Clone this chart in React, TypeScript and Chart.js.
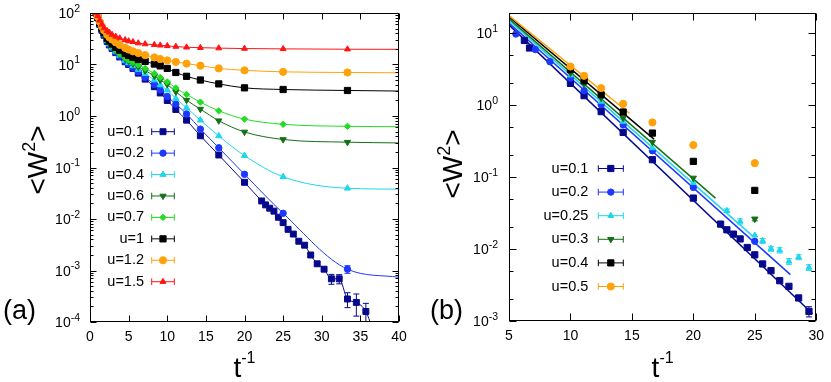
import React, { useEffect, useRef } from "react";
import { Chart, registerables } from "chart.js";

Chart.register(...registerables);

const FONT = "'Liberation Sans', Helvetica, Arial, sans-serif";

const NAVY = "#07098c";
const BLUE = "#1d38ff";
const CYAN = "#1fd6ea";
const DKGREEN = "#137014";
const GREEN = "#22dd22";
const BLACK = "#000000";
const ORANGE = "#ffa20a";
const RED = "#ff1414";

// ---------------- Panel (a) data ----------------
const A_X_TICKS = [0, 5, 10, 15, 20, 25, 30, 35, 40];
const A_Y_EXPONENTS = [-4, -3, -2, -1, 0, 1, 2];
const A_Y_MINOR = [2, 3, 4, 5, 6, 7, 8, 9];

const A_X = [0.8, 1, 1.25, 1.54, 1.82, 2.22, 2.5, 2.86, 3.33, 3.85, 4.55, 5, 5.56, 6.25, 7.14, 8.33, 9.09, 10, 11.11, 12.5, 14.29, 16.67, 20, 25, 33.33];
const A_U15 = [100, 88, 72, 60, 51, 45, 42, 38, 35, 32.5, 30, 28.5, 27.5, 26, 25, 24.2, 23.6, 23, 22.3, 21.6, 21.2, 20.8, 20.4, 20.1, 19.8];
const A_U12 = [100, 85, 68, 55, 46, 38, 34, 30.5, 27, 24, 21, 19.5, 18, 16.7, 15.2, 13.7, 12.8, 12, 11.2, 10.4, 9.5, 8.4, 7.7, 7.2, 7.0];
const A_U1 = [100, 83, 64, 50, 41, 32, 28.5, 25, 21.5, 19, 16.3, 15, 13.8, 12.5, 11.5, 10.2, 9.4, 8.4, 7.0, 5.9, 5.0, 4.2, 3.52, 3.27, 3.13];
const A_U07 = [100, 82, 63, 49, 39, 30, 26, 22.5, 19, 16, 13.4, 12.2, 11, 9.8, 8.4, 6.7, 5.6, 4.6, 3.5, 2.62, 1.86, 1.26, 0.87, 0.69, 0.63];
const A_U06 = [100, 81, 62, 48, 38.5, 29.5, 25.5, 22, 18.5, 15.5, 12.8, 11.6, 10.3, 9.0, 7.6, 6.0, 5.0, 4.1, 2.95, 2.03, 1.36, 0.81, 0.49, 0.35, 0.31];
const A_U04 = [100, 81, 61, 47.5, 38, 29, 25, 21.5, 18, 15, 12, 10.8, 9.4, 8.0, 6.6, 5.0, 4.0, 3.18, 2.19, 1.44, 0.83, 0.41, 0.17, 0.066, 0.0395];
const A_U02 = [100, 80, 61, 47, 37.5, 28.5, 24.5, 21, 17.5, 14.5, 11.7, 10.4, 8.8, 7.2, 5.6, 4.1, 3.2, 2.4, 1.7, 1.1, 0.557, 0.242, 0.0738, 0.0129, 0.00106];
const A_U02_ERR = [[33.33, 0.00018]];

const A_X_U01 = [0.8, 1, 1.25, 1.54, 1.82, 2.22, 2.5, 2.86, 3.33, 3.85, 4.55, 5, 5.56, 6.25, 7.14, 8.33, 9.09, 10, 11.11, 12.5, 14.29, 16.67, 20, 22.22, 22.73, 23.26, 23.81, 24.39, 25, 25.64, 26.32, 27.03, 27.78, 28.57, 29.41, 30.3, 31.25, 32.26, 33.33, 34.48, 35.71];
const A_U01 = [100, 80, 60, 46, 37, 28, 24, 20.5, 17, 14, 11.3, 10, 8.4, 6.8, 5.2, 3.7, 2.8, 2.0, 1.34, 0.83, 0.413, 0.175, 0.0516, 0.0224, 0.0188, 0.0162, 0.0142, 0.0108, 0.0085, 0.0063, 0.0051, 0.0037, 0.0031, 0.002, 0.00135, 0.00106, 0.00069, 0.00069, 0.00028, 0.00024, 0.00016];
const A_U01_ERR = [[28.57, 0.00012], [29.41, 0.0001], [30.3, 0.00008], [31.25, 0.00015], [32.26, 0.00014], [33.33, 0.00009], [34.48, 0.00011], [35.71, 0.00007]];

// where each curve of panel (a) runs out at the right (or bottom) edge
const A_END_U15 = [40, 19.7];
const A_END_U12 = [40, 6.9];
const A_END_U1 = [40, 3.05];
const A_END_U07 = [40, 0.62];
const A_END_U06 = [40, 0.3];
const A_END_U04 = [40, 0.038];
const A_END_U02 = [40, 0.00074];
const A_END_U01 = [36.5, 0.00008];

// ---------------- Panel (b) data ----------------
const B_X_TICKS = [5, 10, 15, 20, 25, 30];
const B_Y_EXPONENTS = [-3, -2, -1, 0, 1];
const B_Y_MINOR = [2, 5];

const B_X_U01 = [6.25, 6.67, 10, 11.11, 12.5, 14.29, 16.67, 20, 22.22, 22.73, 23.26, 23.81, 24.39, 25, 25.64, 26.32, 27.03, 27.78, 28.57, 29.41];
const B_U01 = [7.9, 6.2, 2.0, 1.35, 0.81, 0.417, 0.174, 0.051, 0.0222, 0.0185, 0.0161, 0.0138, 0.0105, 0.0083, 0.0062, 0.005, 0.00363, 0.00303, 0.00209, 0.00136];
const B_U01_ERR = [[28.57, 0.00015], [29.41, 0.00022]];
const B_X_U02 = [5.56, 7.14, 8.33, 10, 11.11, 12.5, 14.29, 16.67, 20, 25];
const B_U02 = [9.7, 5.9, 4.0, 2.37, 1.58, 1.01, 0.53, 0.232, 0.0718, 0.0128];
const B_X_U025 = [10, 12.5, 14.29, 16.67, 20, 22.73, 23.81, 25, 25.64, 26.32, 27.03, 27.78, 28.57, 29.41];
const B_U025 = [2.6, 1.12, 0.59, 0.253, 0.083, 0.034, 0.0242, 0.0155, 0.013, 0.0101, 0.0096, 0.00673, 0.0077, 0.00554];
const B_U025_ERR = [[22.73, 0.002], [23.81, 0.002], [25.64, 0.001], [26.32, 0.0008], [27.03, 0.0008], [27.78, 0.0006], [28.57, 0.0006], [29.41, 0.0005]];
const B_X_U03 = [10, 11.11, 12.5, 14.29, 16.67, 20, 25];
const B_U03 = [2.8, 1.95, 1.25, 0.66, 0.306, 0.097, 0.0261];
const B_U03_ERR = [[25, 0.0015]];
const B_X_U04 = [10, 11.11, 12.5, 14.29, 16.67, 20, 25];
const B_U04 = [3.1, 2.17, 1.39, 0.8, 0.408, 0.165, 0.0652];
const B_X_U05 = [10, 11.11, 12.5, 14.29, 16.67, 20, 25];
const B_U05 = [3.43, 2.55, 1.72, 1.04, 0.574, 0.278, 0.156];

// fitted straight lines of panel (b): [start, end]
const B_FIT_X_U01 = [5, 29.7];
const B_FIT_U01 = [13.0, 0.00126];
const B_FIT_X_U02 = [5, 27.9];
const B_FIT_U02 = [13.8, 0.0044];
const B_FIT_X_U025 = [5, 24.85];
const B_FIT_U025 = [15.0, 0.015];
const B_FIT_X_U03 = [5, 21.8];
const B_FIT_U03 = [15.8, 0.051];
const B_FIT_X_U04 = [5, 16.8];
const B_FIT_U04 = [16.8, 0.337];
const B_FIT_X_U05 = [5, 14.8];
const B_FIT_U05 = [17.5, 0.77];

// ---------------- types ----------------
type Mk = "rect" | "circle" | "triangle" | "triangleDown" | "diamond";
interface SeriesDef {
  label: string;
  color: string;
  marker: Mk;
  r: number;
  x: number[];
  y: number[];
  err?: number[][];
  lineX: number[];
  lineY: number[];
  lineWidth: number;
  smooth: boolean;
}
interface PanelCfg {
  width: number;
  left: number;
  padRight: number;
  padTop: number;
  axisW: number;
  axisH: number;
  xMin: number;
  xMax: number;
  yMin: number;
  yMax: number;
  xTicks: number[];
  yExps: number[];
  yMinor: number[];
  majorLen: number;
  minorLen: number;
  labelRight: number;
  yTitle: { x: number; y: number };
  xTitleY: number;
  panel: { text: string; x: number; y: number };
  legend: { textRight: number; x1: number; x2: number; y0: number; step: number };
  series: SeriesDef[];
}

const withEnd = (arr: number[], end: number) => [...arr, end];

const A_SERIES: SeriesDef[] = [
  { label: "u=0.1", color: NAVY, marker: "rect", r: 4.2, x: A_X_U01, y: A_U01, err: A_U01_ERR, lineX: withEnd(A_X_U01, A_END_U01[0]), lineY: withEnd(A_U01, A_END_U01[1]), lineWidth: 1, smooth: true },
  { label: "u=0.2", color: BLUE, marker: "circle", r: 3.2, x: A_X, y: A_U02, err: A_U02_ERR, lineX: withEnd(A_X, A_END_U02[0]), lineY: withEnd(A_U02, A_END_U02[1]), lineWidth: 1, smooth: true },
  { label: "u=0.4", color: CYAN, marker: "triangle", r: 3.6, x: A_X, y: A_U04, lineX: withEnd(A_X, A_END_U04[0]), lineY: withEnd(A_U04, A_END_U04[1]), lineWidth: 1, smooth: true },
  { label: "u=0.6", color: DKGREEN, marker: "triangleDown", r: 3.6, x: A_X, y: A_U06, lineX: withEnd(A_X, A_END_U06[0]), lineY: withEnd(A_U06, A_END_U06[1]), lineWidth: 1, smooth: true },
  { label: "u=0.7", color: GREEN, marker: "diamond", r: 3.2, x: A_X, y: A_U07, lineX: withEnd(A_X, A_END_U07[0]), lineY: withEnd(A_U07, A_END_U07[1]), lineWidth: 1, smooth: true },
  { label: "u=1", color: BLACK, marker: "rect", r: 4.4, x: A_X, y: A_U1, lineX: withEnd(A_X, A_END_U1[0]), lineY: withEnd(A_U1, A_END_U1[1]), lineWidth: 1, smooth: true },
  { label: "u=1.2", color: ORANGE, marker: "circle", r: 3.6, x: A_X, y: A_U12, lineX: withEnd(A_X, A_END_U12[0]), lineY: withEnd(A_U12, A_END_U12[1]), lineWidth: 1, smooth: true },
  { label: "u=1.5", color: RED, marker: "triangle", r: 3.4, x: A_X, y: A_U15, lineX: withEnd(A_X, A_END_U15[0]), lineY: withEnd(A_U15, A_END_U15[1]), lineWidth: 1, smooth: true },
];

const B_SERIES: SeriesDef[] = [
  { label: "u=0.1", color: NAVY, marker: "rect", r: 4.4, x: B_X_U01, y: B_U01, err: B_U01_ERR, lineX: B_FIT_X_U01, lineY: B_FIT_U01, lineWidth: 1.5, smooth: false },
  { label: "u=0.2", color: BLUE, marker: "circle", r: 3.2, x: B_X_U02, y: B_U02, lineX: B_FIT_X_U02, lineY: B_FIT_U02, lineWidth: 1.5, smooth: false },
  { label: "u=0.25", color: CYAN, marker: "triangle", r: 3.4, x: B_X_U025, y: B_U025, err: B_U025_ERR, lineX: B_FIT_X_U025, lineY: B_FIT_U025, lineWidth: 1.5, smooth: false },
  { label: "u=0.3", color: DKGREEN, marker: "triangleDown", r: 3.6, x: B_X_U03, y: B_U03, err: B_U03_ERR, lineX: B_FIT_X_U03, lineY: B_FIT_U03, lineWidth: 1.5, smooth: false },
  { label: "u=0.4", color: BLACK, marker: "rect", r: 4.4, x: B_X_U04, y: B_U04, lineX: B_FIT_X_U04, lineY: B_FIT_U04, lineWidth: 1.5, smooth: false },
  { label: "u=0.5", color: ORANGE, marker: "circle", r: 3.6, x: B_X_U05, y: B_U05, lineX: B_FIT_X_U05, lineY: B_FIT_U05, lineWidth: 1.5, smooth: false },
];

const PANEL_A: PanelCfg = {
  width: 415, left: 0, padRight: 16, padTop: 13, axisW: 90, axisH: 60,
  xMin: 0, xMax: 40, yMin: 1e-4, yMax: 100,
  xTicks: A_X_TICKS, yExps: A_Y_EXPONENTS, yMinor: A_Y_MINOR, majorLen: 6, minorLen: 3,
  labelRight: 80, yTitle: { x: 37, y: 160 }, xTitleY: 376.5,
  panel: { text: "(a)", x: 3, y: 319 },
  legend: { textRight: 144, x1: 151.7, x2: 174.3, y0: 131.7, step: 21.43 },
  series: A_SERIES,
};

const PANEL_B: PanelCfg = {
  width: 416, left: 415, padRight: 12, padTop: 13, axisW: 94, axisH: 61,
  xMin: 5, xMax: 30, yMin: 1e-3, yMax: 19,
  xTicks: B_X_TICKS, yExps: B_Y_EXPONENTS, yMinor: B_Y_MINOR, majorLen: 7, minorLen: 4,
  labelRight: 83, yTitle: { x: 37, y: 164 }, xTitleY: 376.5,
  panel: { text: "(b)", x: 15, y: 319 },
  legend: { textRight: 173.3, x1: 183.3, x2: 208.3, y0: 168.5, step: 23.6 },
  series: B_SERIES,
};

// ---------------- drawing helpers ----------------
function drawMarker(ctx: CanvasRenderingContext2D, m: Mk, x: number, y: number, r: number, color: string) {
  ctx.save();
  ctx.fillStyle = color;
  ctx.strokeStyle = color;
  ctx.lineWidth = 1;
  ctx.beginPath();
  if (m === "rect") {
    const s = r * Math.SQRT1_2;
    ctx.rect(x - s, y - s, 2 * s, 2 * s);
  } else if (m === "circle") {
    ctx.arc(x, y, r, 0, Math.PI * 2);
  } else if (m === "diamond") {
    ctx.moveTo(x, y - r);
    ctx.lineTo(x + r, y);
    ctx.lineTo(x, y + r);
    ctx.lineTo(x - r, y);
    ctx.closePath();
  } else {
    let rad = m === "triangleDown" ? Math.PI : 0;
    ctx.moveTo(x + Math.sin(rad) * r, y - Math.cos(rad) * r);
    rad += (2 * Math.PI) / 3;
    ctx.lineTo(x + Math.sin(rad) * r, y - Math.cos(rad) * r);
    rad += (2 * Math.PI) / 3;
    ctx.lineTo(x + Math.sin(rad) * r, y - Math.cos(rad) * r);
    ctx.closePath();
  }
  ctx.fill();
  ctx.stroke();
  ctx.restore();
}

type Part = { t: string; size: number; dy: number };
function drawParts(ctx: CanvasRenderingContext2D, parts: Part[], x: number, y: number, align: "left" | "right" | "center") {
  const widths = parts.map((p) => {
    ctx.font = `${p.size}px ${FONT}`;
    return ctx.measureText(p.t).width;
  });
  const total = widths.reduce((a, b) => a + b, 0);
  let cx = align === "left" ? x : align === "right" ? x - total : x - total / 2;
  ctx.textAlign = "left";
  ctx.textBaseline = "alphabetic";
  parts.forEach((p, i) => {
    ctx.font = `${p.size}px ${FONT}`;
    ctx.fillText(p.t, cx, y + p.dy);
    cx += widths[i];
  });
}

function makePlugin(c: PanelCfg) {
  return {
    id: "decor",
    afterDatasetsDraw(chart: any) {
      const ctx: CanvasRenderingContext2D = chart.ctx;
      const a = chart.chartArea;
      const xs = chart.scales.x;
      const ys = chart.scales.y;
      // error bars
      ctx.save();
      ctx.beginPath();
      ctx.rect(a.left, a.top, a.right - a.left, a.bottom - a.top);
      ctx.clip();
      c.series.forEach((s) => {
        if (!s.err) return;
        ctx.strokeStyle = s.color;
        ctx.lineWidth = 1;
        s.err.forEach(([xv, e]) => {
          const i = s.x.indexOf(xv);
          if (i < 0) return;
          const v = s.y[i];
          const px = xs.getPixelForValue(xv);
          const y1 = ys.getPixelForValue(v + e);
          const y2 = ys.getPixelForValue(Math.max(v - e, v * 0.05));
          ctx.beginPath();
          ctx.moveTo(px, y1);
          ctx.lineTo(px, y2);
          ctx.moveTo(px - 3, y1);
          ctx.lineTo(px + 3, y1);
          ctx.moveTo(px - 3, y2);
          ctx.lineTo(px + 3, y2);
          ctx.stroke();
        });
      });
      ctx.restore();

      // frame and inward ticks
      ctx.save();
      ctx.strokeStyle = "#000";
      ctx.lineWidth = 1;
      const L = Math.round(a.left) + 0.5;
      const R = Math.round(a.right) - 0.5;
      const T = Math.round(a.top) + 0.5;
      const B = Math.round(a.bottom) - 0.5;
      ctx.strokeRect(L, T, R - L, B - T);
      ctx.beginPath();
      c.xTicks.forEach((v) => {
        const px = Math.round(xs.getPixelForValue(v)) + 0.5;
        ctx.moveTo(px, B);
        ctx.lineTo(px, B - c.majorLen);
        ctx.moveTo(px, T);
        ctx.lineTo(px, T + c.majorLen);
      });
      c.yExps.forEach((e) => {
        const py = Math.round(ys.getPixelForValue(Math.pow(10, e))) + 0.5;
        ctx.moveTo(L, py);
        ctx.lineTo(L + c.majorLen, py);
        ctx.moveTo(R, py);
        ctx.lineTo(R - c.majorLen, py);
        c.yMinor.forEach((m) => {
          const v = m * Math.pow(10, e);
          if (v >= c.yMax) return;
          const pm = Math.round(ys.getPixelForValue(v)) + 0.5;
          ctx.moveTo(L, pm);
          ctx.lineTo(L + c.minorLen, pm);
          ctx.moveTo(R, pm);
          ctx.lineTo(R - c.minorLen, pm);
        });
      });
      ctx.stroke();
      ctx.restore();
    },
    afterDraw(chart: any) {
      const ctx: CanvasRenderingContext2D = chart.ctx;
      const a = chart.chartArea;
      const ys = chart.scales.y;
      ctx.save();
      ctx.fillStyle = "#000";
      // y tick labels 10^n
      c.yExps.forEach((e) => {
        const py = ys.getPixelForValue(Math.pow(10, e));
        drawParts(ctx, [{ t: "10", size: 14, dy: 0 }, { t: String(e), size: 10.5, dy: -6.4 }], c.labelRight, py + 5, "right");
      });
      // axis titles
      drawParts(ctx, [{ t: "t", size: 28, dy: 0 }, { t: "-1", size: 16, dy: -14 }], (a.left + a.right) / 2, c.xTitleY, "center");
      ctx.save();
      ctx.translate(c.yTitle.x, c.yTitle.y);
      ctx.rotate(-Math.PI / 2);
      drawParts(ctx, [{ t: "<W", size: 28, dy: 0 }, { t: "2", size: 18, dy: -12 }, { t: ">", size: 28, dy: 0 }], 0, 10, "center");
      ctx.restore();
      // panel label
      ctx.font = `27px ${FONT}`;
      ctx.textAlign = "left";
      ctx.textBaseline = "alphabetic";
      ctx.fillText(c.panel.text, c.panel.x, c.panel.y);
      // legend
      const lg = c.legend;
      c.series.forEach((s, i) => {
        const y = lg.y0 + i * lg.step;
        ctx.font = `14.5px ${FONT}`;
        ctx.fillStyle = "#000";
        ctx.textAlign = "right";
        ctx.textBaseline = "middle";
        ctx.fillText(s.label, lg.textRight, y);
        ctx.strokeStyle = s.color;
        ctx.lineWidth = 1;
        ctx.beginPath();
        ctx.moveTo(lg.x1, y);
        ctx.lineTo(lg.x2, y);
        ctx.moveTo(lg.x1, y - 3.3);
        ctx.lineTo(lg.x1, y + 3.3);
        ctx.moveTo(lg.x2, y - 3.3);
        ctx.lineTo(lg.x2, y + 3.3);
        ctx.stroke();
        drawMarker(ctx, s.marker, (lg.x1 + lg.x2) / 2, y, s.r, s.color);
      });
      ctx.restore();
    },
  };
}

function styleOf(m: Mk): { style: string; rot: number } {
  if (m === "rect") return { style: "rect", rot: 0 };
  if (m === "circle") return { style: "circle", rot: 0 };
  if (m === "diamond") return { style: "rectRot", rot: 0 };
  if (m === "triangleDown") return { style: "triangle", rot: 180 };
  return { style: "triangle", rot: 0 };
}

function buildConfig(c: PanelCfg): any {
  const datasets: any[] = [];
  let order = 1000;
  c.series.forEach((s) => {
    datasets.push({
      label: s.label + " curve",
      data: s.lineX.map((x, i) => ({ x, y: s.lineY[i] })),
      showLine: true,
      borderColor: s.color,
      backgroundColor: s.color,
      borderWidth: s.lineWidth,
      pointRadius: 0,
      pointHoverRadius: 0,
      cubicInterpolationMode: s.smooth ? "monotone" : "default",
      tension: 0,
      fill: false,
      order: order--,
    });
  });
  c.series.forEach((s) => {
    const st = styleOf(s.marker);
    datasets.push({
      label: s.label,
      data: s.x.map((x, i) => ({ x, y: s.y[i] })),
      showLine: false,
      pointStyle: st.style,
      rotation: st.rot,
      pointRotation: st.rot,
      pointRadius: s.r,
      pointHoverRadius: s.r,
      pointBorderWidth: 1,
      borderColor: s.color,
      backgroundColor: s.color,
      order: order--,
    });
  });
  return {
    type: "scatter",
    data: { datasets },
    options: {
      responsive: false,
      animation: false,
      events: [],
      layout: { autoPadding: false, padding: { left: 0, right: c.padRight, top: c.padTop, bottom: 0 } },
      plugins: { legend: { display: false }, tooltip: { enabled: false }, title: { display: false } },
      scales: {
        x: {
          type: "linear",
          position: "bottom",
          min: c.xMin,
          max: c.xMax,
          grid: { display: false, drawTicks: false },
          border: { display: false },
          afterBuildTicks: (s: any) => {
            s.ticks = c.xTicks.map((v) => ({ value: v }));
          },
          ticks: {
            autoSkip: false,
            maxRotation: 0,
            padding: 7,
            color: "#000",
            font: { family: FONT, size: 14 },
            callback: (v: any) => String(v),
          },
          afterFit: (s: any) => {
            s.height = c.axisH;
          },
        },
        y: {
          type: "logarithmic",
          position: "left",
          min: c.yMin,
          max: c.yMax,
          grid: { display: false, drawTicks: false },
          border: { display: false },
          ticks: { display: false },
          afterFit: (s: any) => {
            s.width = c.axisW;
          },
        },
      },
    },
    plugins: [makePlugin(c)],
  };
}

function Panel({ cfg }: { cfg: PanelCfg }) {
  const ref = useRef<HTMLCanvasElement | null>(null);
  useEffect(() => {
    if (!ref.current) return;
    const chart = new Chart(ref.current, buildConfig(cfg));
    return () => chart.destroy();
  }, [cfg]);
  return (
    <canvas
      ref={ref}
      width={cfg.width}
      height={382}
      style={{ position: "absolute", left: cfg.left, top: 0, width: cfg.width, height: 382, display: "block" }}
    />
  );
}

export default function App() {
  return (
    <div style={{ position: "fixed", left: 0, top: 0, width: 831, height: 382, background: "#fff", overflow: "hidden" }}>
      <Panel cfg={PANEL_A} />
      <Panel cfg={PANEL_B} />
    </div>
  );
}
